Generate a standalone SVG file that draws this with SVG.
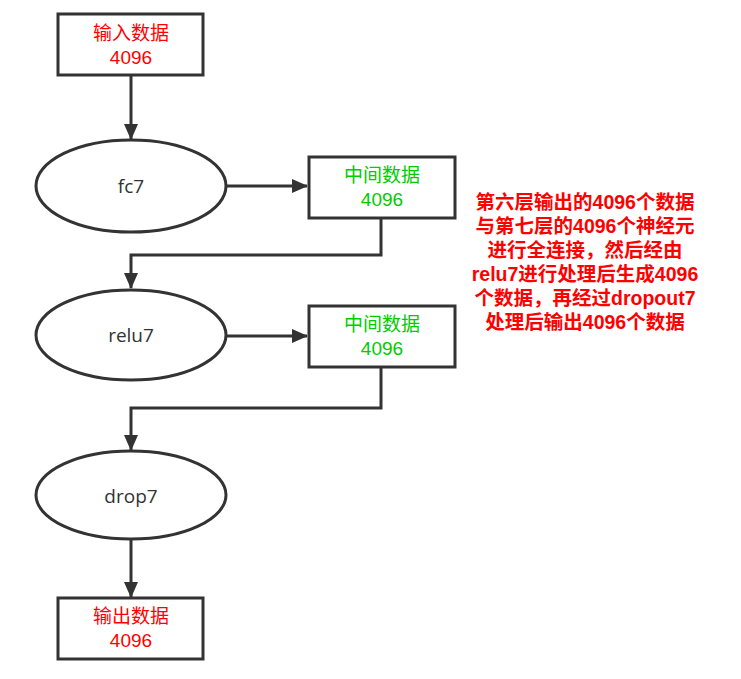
<svg xmlns="http://www.w3.org/2000/svg" width="741" height="679" viewBox="0 0 741 679">
<defs>
<marker id="ah" markerWidth="16" markerHeight="14" refX="15" refY="7" orient="auto" markerUnits="userSpaceOnUse">
<path d="M0,0 L16,7 L0,14 Z" fill="#333"/>
</marker>
<style>
.box{fill:#fff;stroke:#333;stroke-width:3}
.ell{fill:#fff;stroke:#333;stroke-width:3}
.edge{fill:none;stroke:#333;stroke-width:3}
.t{font-family:"Liberation Sans","Noto Sans CJK SC",sans-serif;font-size:19px;text-anchor:middle}
.e{font-family:"Open Sans","Noto Sans",sans-serif;font-size:19px;text-anchor:middle;fill:#333}
.red{fill:#ff0000}
.green{fill:#00cc00}
.note{font-family:"Liberation Sans","Noto Sans CJK SC",sans-serif;font-size:19.5px;text-anchor:middle;fill:#ff0000;font-weight:bold}
</style>
</defs>
<rect width="741" height="679" fill="#fff"/>
<g id="connectors">
<path class="edge" d="M131,76 L131,139" marker-end="url(#ah)"/>
<path class="edge" d="M227,186 L307,186" marker-end="url(#ah)"/>
<path class="edge" d="M381,218 L381,255 L131,255 L131,288" marker-end="url(#ah)"/>
<path class="edge" d="M227,336 L307,336" marker-end="url(#ah)"/>
<path class="edge" d="M381,367 L381,408 L131,408 L131,450" marker-end="url(#ah)"/>
<path class="edge" d="M131,540 L131,597" marker-end="url(#ah)"/>
</g>
<g id="input">
<rect class="box" x="58" y="14" width="145" height="61"/>
<text class="t red" x="131" y="40">输入数据</text>
<text class="t red" x="131" y="64">4096</text>
</g>
<g id="fc7">
<ellipse class="ell" cx="131" cy="186" rx="95" ry="46"/>
<text class="e" x="131" y="193">fc7</text>
</g>
<g id="mid1">
<rect class="box" x="309" y="157" width="146" height="61"/>
<text class="t green" x="382" y="182">中间数据</text>
<text class="t green" x="382" y="206">4096</text>
</g>
<g id="relu7">
<ellipse class="ell" cx="131" cy="335" rx="95" ry="45"/>
<text class="e" x="131" y="342">relu7</text>
</g>
<g id="mid2">
<rect class="box" x="309" y="306" width="146" height="61"/>
<text class="t green" x="382" y="331">中间数据</text>
<text class="t green" x="382" y="355">4096</text>
</g>
<g id="drop7">
<ellipse class="ell" cx="131" cy="495" rx="95" ry="44"/>
<text class="e" x="131" y="503">drop7</text>
</g>
<g id="output">
<rect class="box" x="58" y="598" width="145" height="61"/>
<text class="t red" x="131" y="623">输出数据</text>
<text class="t red" x="131" y="647">4096</text>
</g>
<g id="note">
<text class="note" x="585" y="209">第六层输出的4096个数据</text>
<text class="note" x="585" y="233">与第七层的4096个神经元</text>
<text class="note" x="585" y="257">进行全连接，然后经由</text>
<text class="note" x="585" y="281">relu7进行处理后生成4096</text>
<text class="note" x="585" y="305">个数据，再经过dropout7</text>
<text class="note" x="585" y="329">处理后输出4096个数据</text>
</g>
</svg>
